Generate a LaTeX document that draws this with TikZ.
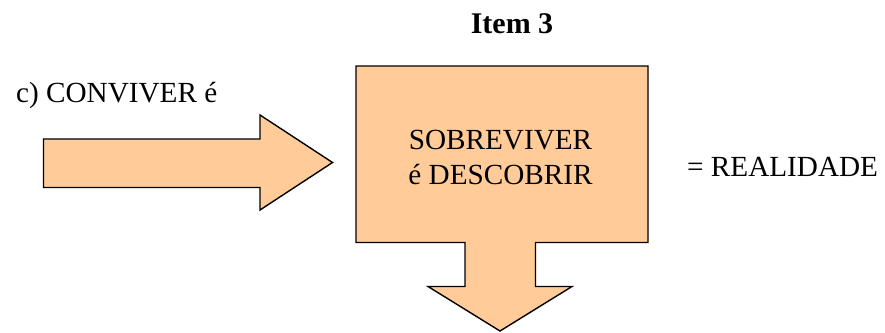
\documentclass[tikz,border=0pt]{standalone}
\usepackage{fontspec}
\setmainfont{Liberation Serif}
\definecolor{peach}{HTML}{FFCC99}
\tikzset{
  shapefill/.style={fill=peach, draw=black, line width=1.4pt, line join=miter},
  txt/.style={inner sep=0pt, font=\fontsize{29.2}{34}\selectfont},
  boldtxt/.style={inner sep=0pt, font=\fontsize{30}{34}\selectfont\bfseries}
}
\begin{document}
\begin{tikzpicture}[x=1pt,y=-1pt]
\useasboundingbox (0,0) rectangle (885,332);
% right arrow
\draw[shapefill] (43.5,139) -- (260,139) -- (260,115) -- (332.5,162.5) -- (260,210) -- (260,187.5) -- (43.5,187.5) -- cycle;
% box with down arrow
\draw[shapefill] (356,66) -- (648,66) -- (648,242.5) -- (535.5,242.5) -- (535.5,286.5) -- (572,286.5) -- (500,331) -- (428,286.5) -- (465,286.5) -- (465,242.5) -- (356,242.5) -- cycle;
\node[boldtxt, anchor=base] (title) at (512,33.3) {Item 3};
\node[txt, anchor=base west] (conv) at (16,102.7) {c) CONVIVER é};
\node[txt, anchor=base] (sob) at (500.5,149.3) {SOBREVIVER};
\node[txt, anchor=base] (desc) at (500.5,184) {é DESCOBRIR};
\node[txt, anchor=base west] (real) at (687,176) {= REALIDADE};
\end{tikzpicture}
\end{document}
